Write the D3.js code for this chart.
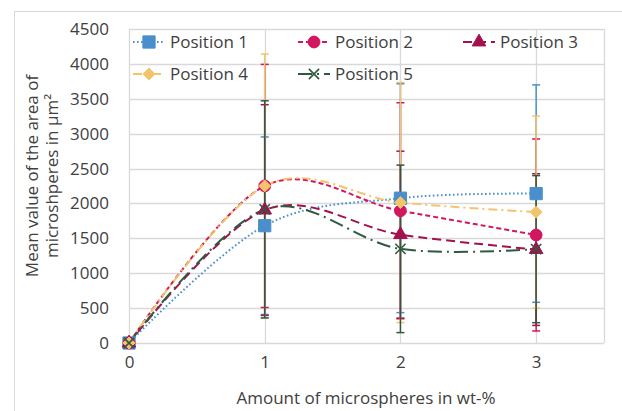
<!DOCTYPE html>
<html>
<head>
<meta charset="utf-8">
<script src="https://cdn.jsdelivr.net/npm/d3@7"></script>
<style>
  body { margin: 0; background: #fff; }
  svg text { font-family: "Open Sans", sans-serif; fill: #404040; }
</style>
</head>
<body>
<div id="chart"></div>
<script>
// data
var amounts = [0, 1, 2, 3];
var seriesNames = ["Position 1", "Position 2", "Position 3", "Position 4", "Position 5"];
var pos1 = [0, 1681, 2075, 2141];
var pos2 = [0, 2251, 1895, 1548];
var pos3 = [0, 1905, 1553, 1339];
var pos4 = [0, 2251, 2013, 1876];
var pos5 = [0, 1915, 1349, 1345];
var err1 = [0, 1272, 1640, 1558];
var err2 = [0, 1742, 1548, 1376];
var err3 = [0, 1510, 1196, 1087];
var err4 = [0, 1890, 1720, 1376];
var err5 = [0, 1556, 1200, 1054];
var yTicks = [0, 500, 1000, 1500, 2000, 2500, 3000, 3500, 4000, 4500];
var xTicks = [0, 1, 2, 3];

var colors = ["#4a8fcb", "#d3175e", "#a3124f", "#f2c46c", "#2f5a3f"];
var dashes = ["1.6 2.4", "5 3", "9 5", "9 4 2 4", "14 5 2 5"];
var symbols = [d3.symbolSquare, d3.symbolCircle, d3.symbolTriangle, d3.symbolDiamond2, d3.symbolX];
var symSize = [150, 110, 80, 90, 70];

var values = [pos1, pos2, pos3, pos4, pos5];
var errors = [err1, err2, err3, err4, err5];

var series = seriesNames.map(function(name, i) {
    return {
        name: name, color: colors[i], dash: dashes[i], symbol: symbols[i], size: symSize[i],
        points: amounts.map(function(a, j) { return {x: a, y: values[i][j], e: errors[i][j]}; })
    };
});

var W = 622, H = 411;
var svg = d3.select("#chart").append("svg")
    .attr("width", W)
    .attr("height", H);

// chart border (only left/top visible in the crop)
svg.append("rect")
    .attr("x", 14.5).attr("y", 11.5)
    .attr("width", 640).attr("height", 440)
    .attr("fill", "none")
    .attr("stroke", "#d9d9d9");

var x = d3.scaleLinear().domain([0, 3.5]).range([129, 604]);
var y = d3.scaleLinear().domain([0, 4500]).range([343, 29]);

// gridlines
svg.append("g")
    .selectAll("line.h")
    .data(yTicks)
    .enter().append("line")
    .attr("x1", x(0)).attr("x2", x(3.5))
    .attr("y1", function(d) { return Math.round(y(d)) + 0.5; })
    .attr("y2", function(d) { return Math.round(y(d)) + 0.5; })
    .attr("stroke", "#d9d9d9").attr("stroke-width", 1.3);
svg.append("g")
    .selectAll("line.v")
    .data(xTicks.concat([3.5]))
    .enter().append("line")
    .attr("x1", function(d) { return Math.round(x(d)) + 0.5; })
    .attr("x2", function(d) { return Math.round(x(d)) + 0.5; })
    .attr("y1", y(0)).attr("y2", y(4500))
    .attr("stroke", "#d9d9d9").attr("stroke-width", 1.3);

// axes labels
var yAxis = svg.append("g")
    .attr("transform", "translate(" + (x(0) - 20) + ",0)")
    .call(d3.axisLeft(y).tickValues(yTicks).tickSize(0).tickPadding(0).tickFormat(d3.format("d")));
yAxis.select(".domain").remove();
yAxis.selectAll("text").style("font-size", "17px").attr("fill", "#404040");

var xAxis = svg.append("g")
    .attr("transform", "translate(0," + (y(0) + 13) + ")")
    .call(d3.axisBottom(x).tickValues(xTicks).tickSize(0).tickPadding(0).tickFormat(d3.format("d")));
xAxis.select(".domain").remove();
xAxis.selectAll("text").style("font-size", "17px").attr("fill", "#404040");

svg.append("text")
    .attr("x", 366).attr("y", 404)
    .attr("text-anchor", "middle")
    .style("font-size", "17px")
    .text("Amount of microspheres in wt-%");

var yt = svg.append("text")
    .attr("transform", "translate(38,176) rotate(-90)")
    .attr("text-anchor", "middle")
    .style("font-size", "17px");
yt.append("tspan").attr("x", 0).attr("y", 0).text("Mean value of the area of");
yt.append("tspan").attr("x", 0).attr("y", 20).text("microshperes in µm²");

// error bars
var eb = svg.append("g")
    .selectAll("g")
    .data(series)
    .enter().append("g")
    .attr("stroke", function(d) { return d.color; })
    .attr("stroke-width", 1.5);
eb.selectAll("line.bar")
    .data(function(d) { return d.points.filter(function(p) { return p.e > 0; }); })
    .enter().append("line")
    .attr("x1", function(d) { return x(d.x); })
    .attr("x2", function(d) { return x(d.x); })
    .attr("y1", function(d) { return y(d.y - d.e); })
    .attr("y2", function(d) { return y(d.y + d.e); });
eb.selectAll("line.cap")
    .data(function(d) {
        var caps = [];
        d.points.forEach(function(p) {
            if (p.e > 0) { caps.push({x: p.x, v: p.y - p.e}); caps.push({x: p.x, v: p.y + p.e}); }
        });
        return caps;
    })
    .enter().append("line")
    .attr("x1", function(d) { return x(d.x) - 4; })
    .attr("x2", function(d) { return x(d.x) + 4; })
    .attr("y1", function(d) { return y(d.v); })
    .attr("y2", function(d) { return y(d.v); });

// smoothed lines
var line = d3.line()
    .x(function(d) { return x(d.x); })
    .y(function(d) { return y(d.y); })
    .curve(d3.curveCardinal.tension(0));

svg.append("g")
    .selectAll("path")
    .data(series)
    .enter().append("path")
    .attr("d", function(d) { return line(d.points); })
    .attr("fill", "none")
    .attr("stroke", function(d) { return d.color; })
    .attr("stroke-width", 2)
    .attr("stroke-dasharray", function(d) { return d.dash; });

// markers
function markerPath(s) {
    return d3.symbol().type(s.symbol).size(s.size)();
}
var mk = svg.append("g")
    .selectAll("g")
    .data(series)
    .enter().append("g");
mk.selectAll("path")
    .data(function(d) { return d.points.map(function(p) { return {p: p, s: d}; }); })
    .enter().append("path")
    .attr("transform", function(d) { return "translate(" + x(d.p.x) + "," + y(d.p.y) + ")"; })
    .attr("d", function(d) { return markerPath(d.s); })
    .attr("fill", function(d) { return d.s.symbol === d3.symbolX ? "none" : d.s.color; })
    .attr("stroke", function(d) { return d.s.color; })
    .attr("stroke-width", function(d) { return d.s.symbol === d3.symbolX ? 1.6 : 1; });

// legend
var legendPos = [[133, 42], [298, 42], [463, 42], [133, 74], [298, 74]];
var lg = svg.append("g")
    .selectAll("g")
    .data(series)
    .enter().append("g")
    .attr("transform", function(d, i) { return "translate(" + legendPos[i][0] + "," + legendPos[i][1] + ")"; });
lg.append("line")
    .attr("x1", 0).attr("x2", 32)
    .attr("stroke", function(d) { return d.color; })
    .attr("stroke-width", 2)
    .attr("stroke-dasharray", function(d) { return d.dash; });
lg.append("path")
    .attr("transform", "translate(16,0)")
    .attr("d", function(d) { return markerPath(d); })
    .attr("fill", function(d) { return d.symbol === d3.symbolX ? "none" : d.color; })
    .attr("stroke", function(d) { return d.color; })
    .attr("stroke-width", function(d) { return d.symbol === d3.symbolX ? 1.6 : 1; });
lg.append("text")
    .attr("x", 37).attr("dy", "0.35em")
    .style("font-size", "17px")
    .text(function(d) { return d.name; });
</script>
</body>
</html>
